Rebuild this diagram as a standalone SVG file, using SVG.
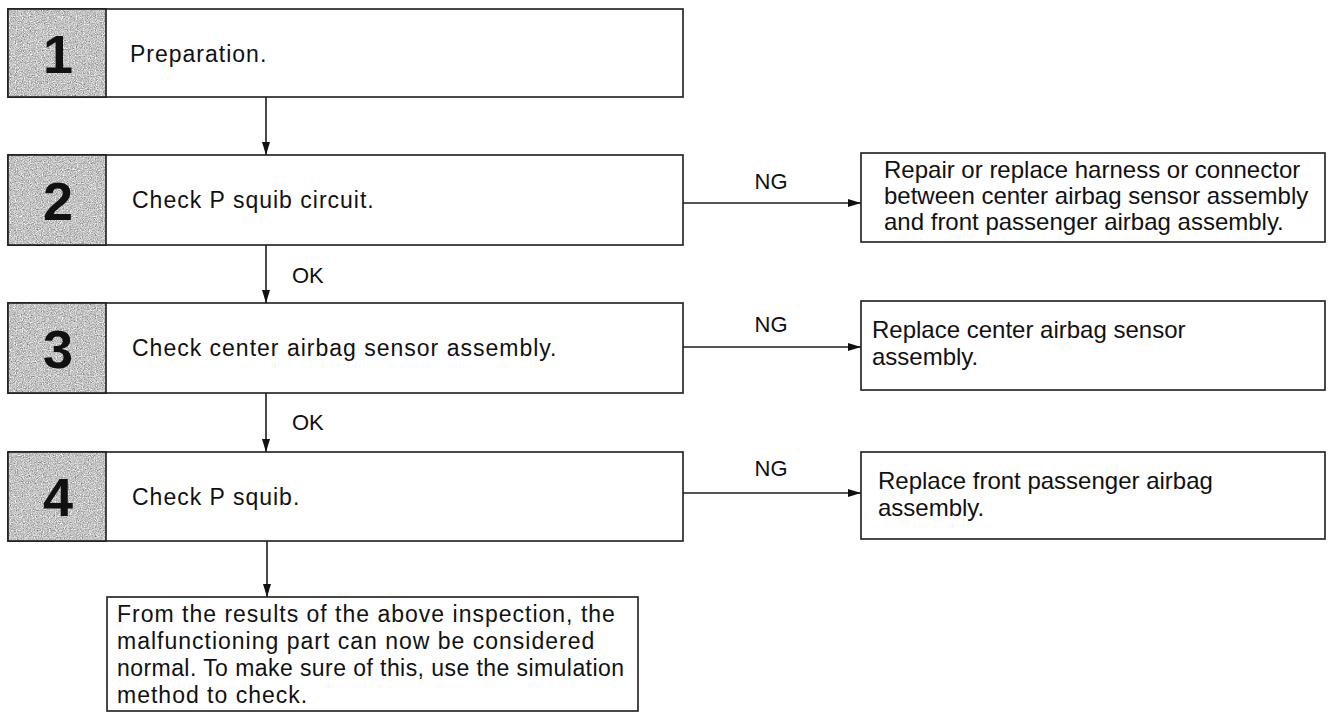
<svg xmlns="http://www.w3.org/2000/svg" width="1330" height="713" viewBox="0 0 1330 713">
<style>
.box{fill:#fff;stroke:#1c1c1c;stroke-width:1.6}
.frame{fill:none;stroke:#1c1c1c;stroke-width:1.6}
.dig{font-family:"Liberation Sans",Arial,sans-serif;font-weight:bold;font-size:54px;fill:#111;text-anchor:middle}
.t{font-family:"Liberation Sans",Arial,sans-serif;font-size:23px;letter-spacing:1px;fill:#111}
.r{font-family:"Liberation Sans",Arial,sans-serif;font-size:24px;fill:#111}
.lbl{font-family:"Liberation Sans",Arial,sans-serif;font-size:22px;fill:#111}
.c{stroke:#1c1c1c;stroke-width:1.6;fill:none;marker-end:url(#ah)}
</style>
<defs>
<marker id="ah" markerUnits="userSpaceOnUse" markerWidth="13" markerHeight="8" refX="13" refY="4" orient="auto">
<path d="M0,0 L13,4 L0,8 z" fill="#111"/>
</marker>
<filter id="grain" filterUnits="objectBoundingBox" x="0" y="0" width="1" height="1" color-interpolation-filters="sRGB">
<feTurbulence type="fractalNoise" baseFrequency="0.85" numOctaves="2" seed="7" result="t"/>
<feColorMatrix in="t" type="matrix" values="0.33 0.33 0.33 0 0 0.33 0.33 0.33 0 0 0.33 0.33 0.33 0 0 0 0 0 0 1" result="g"/>
<feComponentTransfer in="g" result="c">
<feFuncR type="linear" slope="1.3" intercept="0.12"/>
<feFuncG type="linear" slope="1.3" intercept="0.12"/>
<feFuncB type="linear" slope="1.3" intercept="0.12"/>
</feComponentTransfer>
<feComposite in="c" in2="SourceGraphic" operator="in"/>
</filter>
</defs>

<g id="connectors">
<line class="c" x1="266" y1="97" x2="266" y2="155"/>
<line class="c" x1="266" y1="245" x2="266" y2="303"/>
<line class="c" x1="266" y1="393" x2="266" y2="452"/>
<line class="c" x1="267" y1="541" x2="267" y2="597"/>
<line class="c" x1="683" y1="203" x2="861" y2="203"/>
<line class="c" x1="683" y1="347" x2="861" y2="347"/>
<line class="c" x1="683" y1="493" x2="861" y2="493"/>
<text class="lbl" x="292" y="283">OK</text>
<text class="lbl" x="292" y="430">OK</text>
<text class="lbl" x="771" y="189" text-anchor="middle">NG</text>
<text class="lbl" x="771" y="332" text-anchor="middle">NG</text>
<text class="lbl" x="771" y="476" text-anchor="middle">NG</text>
</g>

<g id="step1">
<rect class="box" x="8" y="9" width="675" height="88"/>
<rect x="8" y="9" width="98" height="88" fill="#a4a4a4" filter="url(#grain)"/>
<rect class="frame" x="8" y="9" width="98" height="88"/>
<text class="dig" x="58" y="73">1</text>
<text class="t" x="130" y="62">Preparation.</text>
</g>

<g id="step2">
<rect class="box" x="8" y="155" width="675" height="90"/>
<rect x="8" y="155" width="98" height="90" fill="#a4a4a4" filter="url(#grain)"/>
<rect class="frame" x="8" y="155" width="98" height="90"/>
<text class="dig" x="58" y="220">2</text>
<text class="t" x="132" y="208">Check P squib circuit.</text>
</g>

<g id="step3">
<rect class="box" x="8" y="303" width="675" height="90"/>
<rect x="8" y="303" width="98" height="90" fill="#a4a4a4" filter="url(#grain)"/>
<rect class="frame" x="8" y="303" width="98" height="90"/>
<text class="dig" x="58" y="368">3</text>
<text class="t" x="132" y="356">Check center airbag sensor assembly.</text>
</g>

<g id="step4">
<rect class="box" x="8" y="452" width="675" height="89"/>
<rect x="8" y="452" width="98" height="89" fill="#a4a4a4" filter="url(#grain)"/>
<rect class="frame" x="8" y="452" width="98" height="89"/>
<text class="dig" x="58" y="516">4</text>
<text class="t" x="132" y="505">Check P squib.</text>
</g>

<g id="ng2">
<rect class="box" x="861" y="153" width="464" height="89"/>
<text class="r" x="884" y="178">Repair or replace harness or connector</text>
<text class="r" x="884" y="204">between center airbag sensor assembly</text>
<text class="r" x="884" y="230">and front passenger airbag assembly.</text>
</g>

<g id="ng3">
<rect class="box" x="861" y="301" width="464" height="89"/>
<text class="r" x="872" y="338">Replace center airbag sensor</text>
<text class="r" x="872" y="365">assembly.</text>
</g>

<g id="ng4">
<rect class="box" x="861" y="452" width="464" height="87"/>
<text class="r" x="878" y="489">Replace front passenger airbag</text>
<text class="r" x="878" y="516">assembly.</text>
</g>

<g id="result">
<rect class="box" x="107" y="597" width="531" height="114"/>
<text class="t" x="117" y="622">From the results of the above inspection, the</text>
<text class="t" x="117" y="649">malfunctioning part can now be considered</text>
<text class="t" x="117" y="676" textLength="508" lengthAdjust="spacing">normal. To make sure of this, use the simulation</text>
<text class="t" x="117" y="703">method to check.</text>
</g>
</svg>
